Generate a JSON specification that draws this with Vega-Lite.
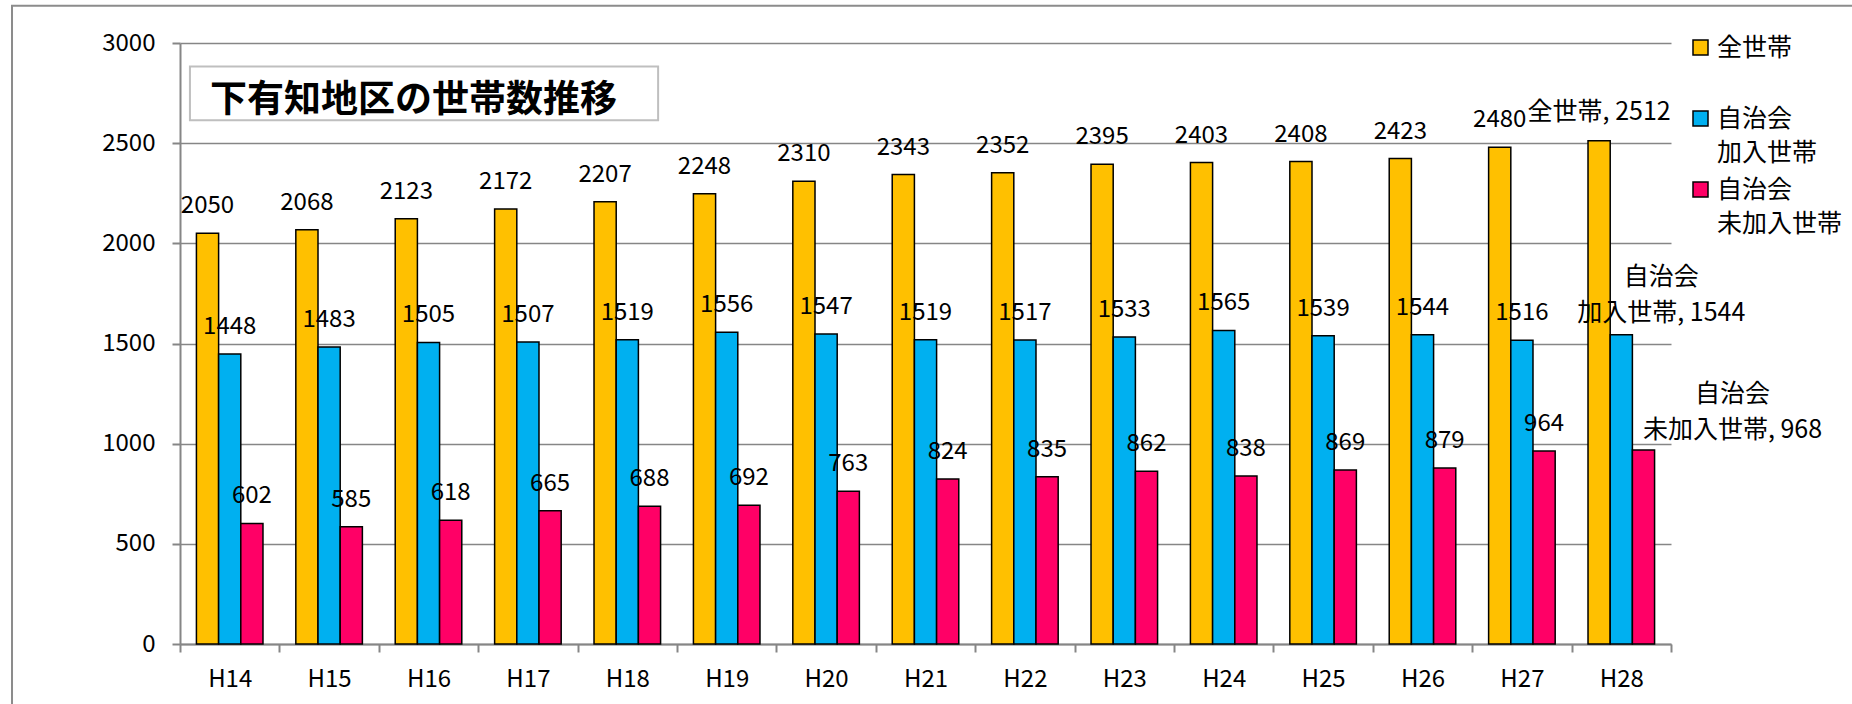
{
  "$schema": "https://vega.github.io/schema/vega-lite/v6.json",
  "width": 1491,
  "height": 601,
  "autosize": "none",
  "padding": {"left": 180, "top": 43, "right": 181, "bottom": 60},
  "background": "white",
  "config": {
    "font": "Noto Sans CJK JP",
    "view": {"stroke": null},
    "axis": {"labelColor": "black", "labelFont": "Noto Sans CJK JP"},
    "legend": {"padding": 0},
    "style": {"guide-label": {"lineHeight": 34}}
  },
  "datasets": {
    "households": [
      {"year": "H14", "series": "全世帯", "value": 2050},
      {"year": "H14", "series": "自治会加入世帯", "value": 1448},
      {"year": "H14", "series": "自治会未加入世帯", "value": 602},
      {"year": "H15", "series": "全世帯", "value": 2068},
      {"year": "H15", "series": "自治会加入世帯", "value": 1483},
      {"year": "H15", "series": "自治会未加入世帯", "value": 585},
      {"year": "H16", "series": "全世帯", "value": 2123},
      {"year": "H16", "series": "自治会加入世帯", "value": 1505},
      {"year": "H16", "series": "自治会未加入世帯", "value": 618},
      {"year": "H17", "series": "全世帯", "value": 2172},
      {"year": "H17", "series": "自治会加入世帯", "value": 1507},
      {"year": "H17", "series": "自治会未加入世帯", "value": 665},
      {"year": "H18", "series": "全世帯", "value": 2207},
      {"year": "H18", "series": "自治会加入世帯", "value": 1519},
      {"year": "H18", "series": "自治会未加入世帯", "value": 688},
      {"year": "H19", "series": "全世帯", "value": 2248},
      {"year": "H19", "series": "自治会加入世帯", "value": 1556},
      {"year": "H19", "series": "自治会未加入世帯", "value": 692},
      {"year": "H20", "series": "全世帯", "value": 2310},
      {"year": "H20", "series": "自治会加入世帯", "value": 1547},
      {"year": "H20", "series": "自治会未加入世帯", "value": 763},
      {"year": "H21", "series": "全世帯", "value": 2343},
      {"year": "H21", "series": "自治会加入世帯", "value": 1519},
      {"year": "H21", "series": "自治会未加入世帯", "value": 824},
      {"year": "H22", "series": "全世帯", "value": 2352},
      {"year": "H22", "series": "自治会加入世帯", "value": 1517},
      {"year": "H22", "series": "自治会未加入世帯", "value": 835},
      {"year": "H23", "series": "全世帯", "value": 2395},
      {"year": "H23", "series": "自治会加入世帯", "value": 1533},
      {"year": "H23", "series": "自治会未加入世帯", "value": 862},
      {"year": "H24", "series": "全世帯", "value": 2403},
      {"year": "H24", "series": "自治会加入世帯", "value": 1565},
      {"year": "H24", "series": "自治会未加入世帯", "value": 838},
      {"year": "H25", "series": "全世帯", "value": 2408},
      {"year": "H25", "series": "自治会加入世帯", "value": 1539},
      {"year": "H25", "series": "自治会未加入世帯", "value": 869},
      {"year": "H26", "series": "全世帯", "value": 2423},
      {"year": "H26", "series": "自治会加入世帯", "value": 1544},
      {"year": "H26", "series": "自治会未加入世帯", "value": 879},
      {"year": "H27", "series": "全世帯", "value": 2480},
      {"year": "H27", "series": "自治会加入世帯", "value": 1516},
      {"year": "H27", "series": "自治会未加入世帯", "value": 964},
      {"year": "H28", "series": "全世帯", "value": 2512, "label": "全世帯, 2512"},
      {"year": "H28", "series": "自治会加入世帯", "value": 1544, "label": "自治会\n加入世帯, 1544"},
      {"year": "H28", "series": "自治会未加入世帯", "value": 968, "label": "自治会\n未加入世帯, 968"}
    ],
    "frame": [{"x1": "H14", "x2": "H28", "y1": 3186, "y2": -500}],
    "titlebox": [{"x1": "H14", "x2": "H18", "y1": 2883, "y2": 2614, "tx": "H16", "ty": 2712, "title": "下有知地区の世帯数推移"}]
  },
  "layer": [
    {
      "data": {"name": "households"},
      "mark": {"type": "bar", "stroke": "black", "strokeWidth": 1.5},
      "encoding": {
        "x": {
          "field": "year",
          "type": "nominal",
          "scale": {"paddingInner": 0, "paddingOuter": 0},
          "axis": {
            "title": null,
            "labelAngle": 0,
            "bandPosition": 0.5,
            "tickBand": "extent",
            "domainColor": "#868686",
            "domainWidth": 2,
            "tickColor": "#868686",
            "tickWidth": 2,
            "tickSize": 8,
            "labelFontSize": 24,
            "labelPadding": 15,
            "grid": false
          }
        },
        "xOffset": {
          "field": "series",
          "type": "nominal",
          "scale": {"domain": ["全世帯", "自治会加入世帯", "自治会未加入世帯"], "paddingInner": 0, "paddingOuter": 0.74}
        },
        "y": {
          "field": "value",
          "type": "quantitative",
          "scale": {"domain": [0, 3000], "nice": false},
          "axis": {
            "title": null,
            "values": [0, 500, 1000, 1500, 2000, 2500, 3000],
            "format": "d",
            "domainColor": "#868686",
            "domainWidth": 2,
            "tickColor": "#868686",
            "tickWidth": 2,
            "tickSize": 8,
            "labelFontSize": 24,
            "labelPadding": 17,
            "gridColor": "#868686",
            "gridWidth": 1.5
          }
        },
        "color": {
          "field": "series",
          "type": "nominal",
          "scale": {"domain": ["全世帯", "自治会加入世帯", "自治会未加入世帯"], "range": ["#FFC000", "#00B0F0", "#FF0066"]},
          "legend": {
            "title": null,
            "orient": "none",
            "legendX": 1508,
            "legendY": -8,
            "symbolType": "square",
            "symbolSize": 225,
            "symbolStrokeColor": "black",
            "symbolStrokeWidth": 1.5,
            "labelFontSize": 25,
            "labelColor": "black",
            "labelLimit": 400,
            "labelBaseline": "middle",
            "gridAlign": "all",
            "rowPadding": 11,
            "labelExpr": "datum.label == '自治会加入世帯' ? ['自治会', '加入世帯'] : datum.label == '自治会未加入世帯' ? ['自治会', '未加入世帯'] : datum.label"
          }
        }
      }
    },
    {
      "data": {"name": "frame"},
      "mark": {"type": "rect", "fill": null, "stroke": "#8c8c8c", "strokeWidth": 2, "clip": false},
      "encoding": {
        "x": {"field": "x1", "type": "nominal", "bandPosition": -1.69, "axis": {"bandPosition": 0.5}},
        "x2": {"field": "x2", "bandPosition": 3},
        "y": {"field": "y1", "type": "quantitative"},
        "y2": {"field": "y2"}
      }
    },
    {
      "data": {"name": "titlebox"},
      "mark": {"type": "rect", "fill": "white", "stroke": "#bfbfbf", "strokeWidth": 2},
      "encoding": {
        "x": {"field": "x1", "type": "nominal", "bandPosition": 0.1, "axis": {"bandPosition": 0.5}},
        "x2": {"field": "x2", "bandPosition": 0.81},
        "y": {"field": "y1", "type": "quantitative"},
        "y2": {"field": "y2"}
      }
    },
    {
      "data": {"name": "titlebox"},
      "mark": {"type": "text", "fontSize": 37, "fontWeight": "bold", "align": "center", "baseline": "middle", "color": "black"},
      "encoding": {
        "x": {"field": "tx", "type": "nominal", "bandPosition": 0.35, "axis": {"bandPosition": 0.5}},
        "y": {"field": "ty", "type": "quantitative"},
        "text": {"field": "title", "type": "nominal"}
      }
    },
    {
      "data": {"name": "households"},
      "transform": [{"filter": "datum.year != 'H28'"}],
      "mark": {"type": "text", "fontSize": 24, "baseline": "middle", "align": "center", "dy": -27, "color": "black"},
      "encoding": {
        "x": {"field": "year", "type": "nominal"},
        "xOffset": {"field": "series", "type": "nominal"},
        "y": {"field": "value", "type": "quantitative"},
        "text": {"field": "value", "type": "nominal"}
      }
    },
    {
      "data": {"name": "households"},
      "transform": [{"filter": "datum.year == 'H28' && datum.series == '全世帯'"}],
      "mark": {"type": "text", "fontSize": 25, "baseline": "middle", "align": "center", "dy": -29, "color": "black"},
      "encoding": {
        "x": {"field": "year", "type": "nominal"},
        "xOffset": {"field": "series", "type": "nominal"},
        "y": {"field": "value", "type": "quantitative"},
        "text": {"field": "label", "type": "nominal"}
      }
    },
    {
      "data": {"name": "households"},
      "transform": [{"filter": "datum.year == 'H28' && datum.series == '自治会加入世帯'"}],
      "mark": {"type": "text", "fontSize": 25, "baseline": "middle", "align": "center", "dx": 40, "dy": -58, "lineHeight": 36, "lineBreak": "\n", "color": "black"},
      "encoding": {
        "x": {"field": "year", "type": "nominal"},
        "xOffset": {"field": "series", "type": "nominal"},
        "y": {"field": "value", "type": "quantitative"},
        "text": {"field": "label", "type": "nominal"}
      }
    },
    {
      "data": {"name": "households"},
      "transform": [{"filter": "datum.year == 'H28' && datum.series == '自治会未加入世帯'"}],
      "mark": {"type": "text", "fontSize": 25, "baseline": "middle", "align": "center", "dx": 89, "dy": -56, "lineHeight": 36, "lineBreak": "\n", "color": "black"},
      "encoding": {
        "x": {"field": "year", "type": "nominal"},
        "xOffset": {"field": "series", "type": "nominal"},
        "y": {"field": "value", "type": "quantitative"},
        "text": {"field": "label", "type": "nominal"}
      }
    }
  ]
}
